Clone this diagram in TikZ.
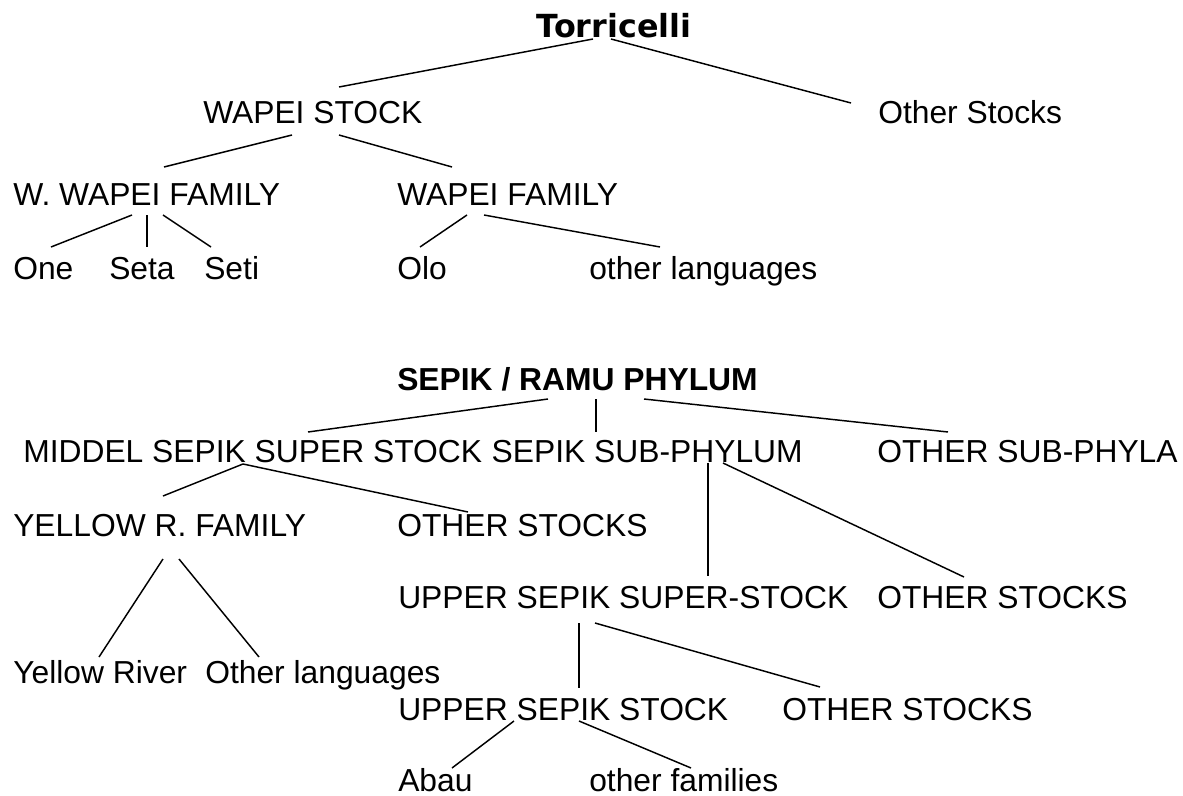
\documentclass[tikz,border=0pt]{standalone}
\usepackage{fontspec}
\setmainfont{Liberation Sans}
\newfontfamily\headfont{DejaVu Sans}
\usetikzlibrary{calc}

\tikzset{
  lang/.style={inner sep=0pt, anchor=base west, font=\fontsize{23.85pt}{28pt}\selectfont},
  branch/.style={line width=1.1pt},
}

\begin{document}
\begin{tikzpicture}[x=0.75pt, y=-0.75pt]
\fill[white] (0,0) rectangle (1183,796);
\useasboundingbox (0,0) rectangle (1183,796);

% Torricelli tree
\node[lang, anchor=base, font=\fontsize{23.85pt}{28pt}\selectfont\headfont\bfseries] (tor) at (614,37) {Torricelli};
\node[lang] (wstock) at (203,123) {WAPEI STOCK};
\node[lang] (ostocks) at (878,123) {Other Stocks};
\node[lang] (wwfam) at (13,205) {W. WAPEI FAMILY};
\node[lang] (wfam) at (397,205) {WAPEI FAMILY};
\node[lang] (one) at (13,279) {One};
\node[lang] (seta) at (109,279) {Seta};
\node[lang] (seti) at (204,279) {Seti};
\node[lang] (olo) at (397,279) {Olo};
\node[lang] (olang) at (589,279) {other languages};

\draw[branch] ($(tor.base)+(-21,2)$) -- ($(wstock.base west)+(136,-36)$);
\draw[branch] ($(tor.base)+(-3,2)$) -- ($(ostocks.base west)+(-27,-20)$);
\draw[branch] ($(wstock.base west)+(89,12)$) -- ($(wwfam.base west)+(151,-38)$);
\draw[branch] ($(wstock.base west)+(136,12)$) -- ($(wfam.base west)+(55,-38)$);
\draw[branch] ($(wwfam.base west)+(119,10)$) -- ($(one.base west)+(38,-32)$);
\draw[branch] ($(wwfam.base west)+(134,10)$) -- ($(seta.base west)+(38,-32)$);
\draw[branch] ($(wwfam.base west)+(150,10)$) -- ($(seti.base west)+(7,-32)$);
\draw[branch] ($(wfam.base west)+(70,10)$) -- ($(olo.base west)+(23,-32)$);
\draw[branch] ($(wfam.base west)+(87,10)$) -- ($(olang.base west)+(71,-32)$);

% Sepik / Ramu tree
\node[lang, font=\fontsize{23.85pt}{28pt}\selectfont\bfseries] (srp) at (397,390) {SEPIK / RAMU PHYLUM};
\node[lang] (msss) at (23,462) {MIDDEL SEPIK SUPER STOCK};
\node[lang, anchor=base east] (ssp) at (803,462) {SEPIK SUB-PHYLUM};
\node[lang] (osp) at (877,462) {OTHER SUB-PHYLA};
\node[lang] (yrfam) at (13,536) {YELLOW R. FAMILY};
\node[lang] (ostk1) at (397,536) {OTHER STOCKS};
\node[lang] (usss) at (398,608) {UPPER SEPIK SUPER-STOCK};
\node[lang] (ostk2) at (877,608) {OTHER STOCKS};
\node[lang] (yriver) at (13,683) {Yellow River};
\node[lang] (olang2) at (205,683) {Other languages};
\node[lang] (uss) at (398,720) {UPPER SEPIK STOCK};
\node[lang] (ostk3) at (782,720) {OTHER STOCKS};
\node[lang] (abau) at (398,791) {Abau};
\node[lang] (ofam) at (589,791) {other families};

\draw[branch] ($(srp.base west)+(151,9)$) -- ($(msss.base west)+(285,-30)$);
\draw[branch] ($(srp.base west)+(199,9)$) -- ($(ssp.base east)+(-207,-30)$);
\draw[branch] ($(srp.base west)+(247,9)$) -- ($(osp.base west)+(71,-30)$);
\draw[branch] ($(msss.base west)+(220,2)$) -- ($(yrfam.base west)+(150,-40)$);
\draw[branch] ($(msss.base west)+(220,2)$) -- ($(ostk1.base west)+(71,-24)$);
\draw[branch] ($(ssp.base east)+(-95,1)$) -- ($(usss.base west)+(310,-32)$);
\draw[branch] ($(ssp.base east)+(-80,1)$) -- ($(ostk2.base west)+(87,-31)$);
\draw[branch] ($(yrfam.base west)+(150,23)$) -- ($(yriver.base west)+(86,-26)$);
\draw[branch] ($(yrfam.base west)+(166,23)$) -- ($(olang2.base west)+(54,-26)$);
\draw[branch] ($(usss.base west)+(181,15)$) -- ($(uss.base west)+(181,-32)$);
\draw[branch] ($(usss.base west)+(197,15)$) -- ($(ostk3.base west)+(38,-33)$);
\draw[branch] ($(uss.base west)+(116,1)$) -- ($(abau.base west)+(54,-23)$);
\draw[branch] ($(uss.base west)+(181,1)$) -- ($(ofam.base west)+(102,-23)$);
\end{tikzpicture}
\end{document}
